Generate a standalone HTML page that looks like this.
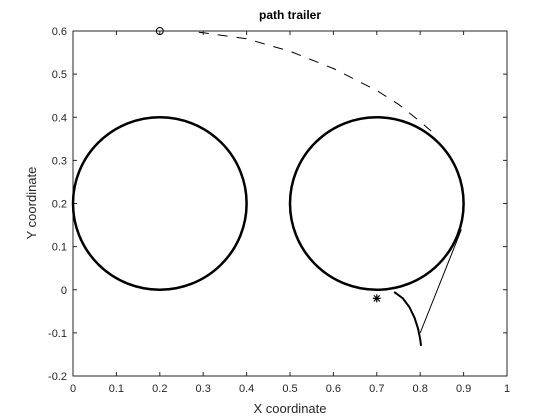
<!DOCTYPE html>
<html><head><meta charset="utf-8"><style>
html,body{margin:0;padding:0;background:#fff;width:560px;height:420px;overflow:hidden}
text{font-family:"Liberation Sans",Arial,sans-serif}
</style></head><body>
<svg id="c" width="560" height="420" xmlns="http://www.w3.org/2000/svg"></svg>
<script>
const xTicks=[0,0.1,0.2,0.3,0.4,0.5,0.6,0.7,0.8,0.9,1];
const yTicks=[-0.2,-0.1,0,0.1,0.2,0.3,0.4,0.5,0.6];
const obstacleCx=[0.2,0.7];
const obstacleCy=[0.2,0.2];
const obstacleR=[0.2,0.2];
const refX=[0.29,0.3,0.4,0.5,0.6,0.7,0.75,0.8,0.825];
const refY=[0.597,0.596,0.582,0.553,0.513,0.462,0.43,0.39,0.368];
const trailX=[0.74,0.76,0.775,0.787,0.795,0.8,0.802];
const trailY=[-0.005,-0.02,-0.04,-0.065,-0.09,-0.115,-0.13];
const linkX=[0.8,0.895];
const linkY=[-0.1,0.14];
const startPt=[0.2,0.6];
const endPt=[0.7,-0.02];
const L=73,R=507,T=31,B=376;
const sx=v=>L+(v-0)/(1-0)*(R-L);
const sy=v=>B-(v+0.2)/(0.8)*(B-T);
const svg=document.getElementById('c');
const NS='http://www.w3.org/2000/svg';
function mk(t,a,p){const e=document.createElementNS(NS,t);for(const k in a)e.setAttribute(k,a[k]);(p||svg).appendChild(e);return e;}
let e;
e=mk('rect',{x:L,y:T,width:R-L,height:B-T,fill:'#fff',stroke:'#262626','stroke-width':1});


xTicks.forEach(v=>{const x=sx(v);
mk('line',{x1:x,y1:B,x2:x,y2:B-4,stroke:'#262626'});mk('line',{x1:x,y1:T,x2:x,y2:T+4,stroke:'#262626'});
e=mk('text',{x:x,y:B+16,'text-anchor':'middle','font-size':11,fill:'#262626'});e.textContent=String(v);

});
yTicks.forEach(v=>{const y=sy(v);
mk('line',{x1:L,y1:y,x2:L+4,y2:y,stroke:'#262626'});mk('line',{x1:R,y1:y,x2:R-4,y2:y,stroke:'#262626'});
e=mk('text',{x:L-6,y:y+4,'text-anchor':'end','font-size':11,fill:'#262626'});e.textContent=String(Math.round(v*10)/10);

});
obstacleCx.forEach((cx,i)=>{
e=mk('ellipse',{cx:sx(cx),cy:sy(obstacleCy[i]),rx:sx(obstacleR[i])-sx(0),ry:sy(0)-sy(obstacleR[i]),fill:'none',stroke:'#000','stroke-width':2.5});

});
e=mk('polyline',{points:refX.map((x,i)=>sx(x)+','+sy(refY[i])).join(' '),fill:'none',stroke:'#000','stroke-width':1,'stroke-dasharray':'10,9'});


e=mk('polyline',{points:trailX.map((x,i)=>sx(x)+','+sy(trailY[i])).join(' '),fill:'none',stroke:'#000','stroke-width':2});


e=mk('polyline',{points:linkX.map((x,i)=>sx(x)+','+sy(linkY[i])).join(' '),fill:'none',stroke:'#000','stroke-width':1});


e=mk('circle',{cx:sx(startPt[0]),cy:sy(startPt[1]),r:3.5,fill:'none',stroke:'#000'});


const ex=sx(endPt[0]),ey=sy(endPt[1]);
e=mk('g',{stroke:'#000','stroke-width':1.2});
mk('line',{x1:ex-4,y1:ey,x2:ex+4,y2:ey},e);mk('line',{x1:ex,y1:ey-4,x2:ex,y2:ey+4},e);
mk('line',{x1:ex-3,y1:ey-3,x2:ex+3,y2:ey+3},e);mk('line',{x1:ex-3,y1:ey+3,x2:ex+3,y2:ey-3},e);


e=mk('text',{x:290,y:19,'text-anchor':'middle','font-size':12,'font-weight':'bold',fill:'#000'});e.textContent='path trailer';


e=mk('text',{x:290,y:413,'text-anchor':'middle','font-size':13,fill:'#262626'});e.textContent='X coordinate';


e=mk('text',{x:0,y:0,'text-anchor':'middle','font-size':13,fill:'#262626',transform:'translate(36,203) rotate(-90)'});e.textContent='Y coordinate';


</script>
</body></html>
